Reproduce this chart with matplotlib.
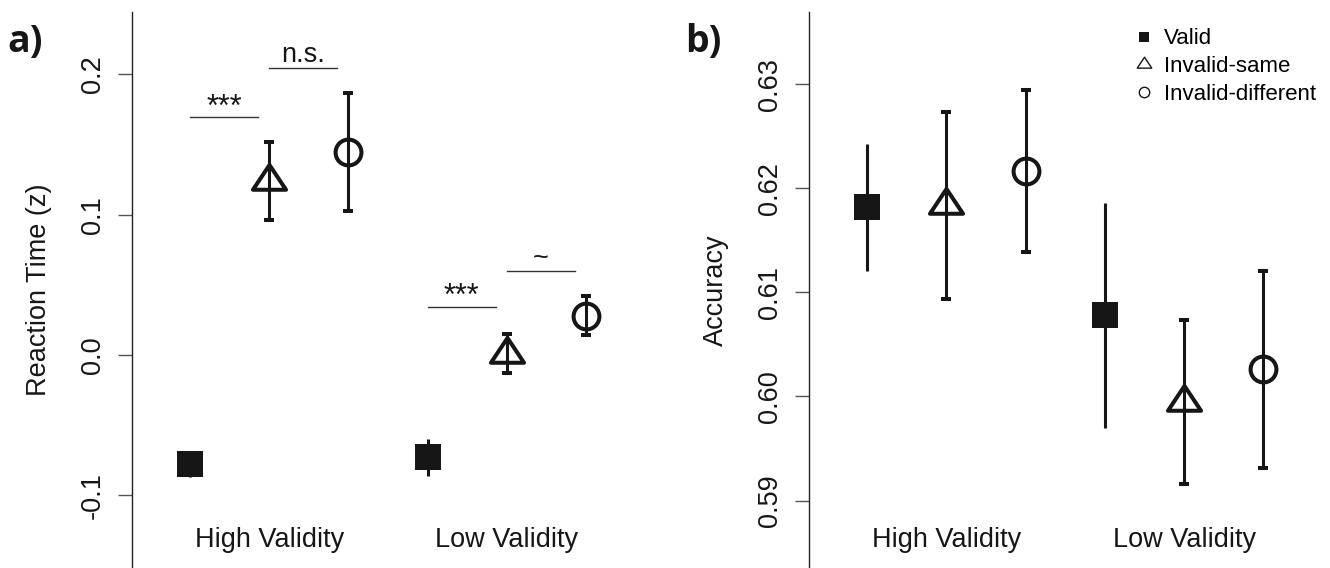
import numpy as np
import matplotlib.pyplot as plt
from matplotlib.lines import Line2D
from matplotlib.path import Path

plt.rcParams['font.family'] = ['Liberation Sans', 'DejaVu Sans']

# conditions inside each validity group
conditions = ["Valid", "Invalid-same", "Invalid-different"]
groups = ["High Validity", "Low Validity"]

# panel a: reaction time (z), order = High(valid, same, diff), Low(valid, same, diff)
rt_mean = [-0.078, 0.124, 0.145, -0.073, 0.001, 0.028]
rt_err = [0.009, 0.028, 0.042, 0.013, 0.014, 0.014]

# panel b: accuracy
acc_mean = [0.6182, 0.6184, 0.6217, 0.6078, 0.5995, 0.6026]
acc_err = [0.0061, 0.0090, 0.0078, 0.0108, 0.0079, 0.0095]

# significance lines in panel a
sig_from = [1, 2, 4, 5]
sig_to = [1.86, 2.86, 4.86, 5.86]
sig_y = [0.1696, 0.2046, 0.0344, 0.0597]
sig_text = ["***", "n.s.", "***", "~"]

rt_ticks = [-0.1, 0.0, 0.1, 0.2]
acc_ticks = [0.59, 0.60, 0.61, 0.62, 0.63]

col = "#161616"
W, H = 1330, 568

# R-like triangle, centred on its centroid
tri = Path([(0, 0.5), (-0.5, -0.25), (0.5, -0.25), (0, 0.5)],
           [Path.MOVETO, Path.LINETO, Path.LINETO, Path.CLOSEPOLY])
styles = [dict(marker="s", ms=18.7, mfc=col, mew=0),
          dict(marker=tri, ms=23.8, mfc="none", mew=2.9),
          dict(marker="o", ms=18.6, mfc="none", mew=2.9)]

fig = plt.figure(figsize=(W / 100, H / 100), dpi=100)
ax1 = fig.add_axes([131.7 / W, 0, 517.6 / W, 556 / H])
ax2 = fig.add_axes([809 / W, 0, 517.6 / W, 556 / H])


def draw_panel(ax, means, errs, ylim, ticks, fmt, ylabel):
    for g in range(len(groups)):
        for c in range(len(conditions)):
            i = g * 3 + c
            ax.errorbar(i + 1, means[i], yerr=errs[i], color=col, mec=col,
                        elinewidth=2.2, capsize=3.6, capthick=2.2, ls="none",
                        **styles[c])
        ax.text(g * 3 + 2, 20.7 / 556, groups[g], fontsize=19.5, ha="center",
                va="baseline", color=col,
                transform=ax.get_xaxis_transform())
    ax.set_xlim(0.264, 6.799)
    ax.set_ylim(*ylim)
    ax.set_yticks(ticks)
    ax.set_yticklabels([fmt.format(t) for t in ticks])
    for s in ["top", "right", "bottom"]:
        ax.spines[s].set_visible(False)
    ax.spines["left"].set_linewidth(1.0)
    ax.spines["left"].set_color("#222222")
    ax.set_xticks([])
    ax.tick_params(axis="y", length=10, width=1, color="#555555",
                   labelsize=19.5, labelcolor=col, pad=8.5, labelrotation=90)
    for lab in ax.get_yticklabels():
        lab.set_va("center")
    ax.set_ylabel(ylabel, fontsize=19.5, color=col)
    ax.yaxis.set_label_coords(-0.154, 0.5)


draw_panel(ax1, rt_mean, rt_err, (-0.1518, 0.2445), rt_ticks, "{:.1f}",
           "Reaction Time (z)")
draw_panel(ax2, acc_mean, acc_err, (0.58351, 0.63697), acc_ticks, "{:.2f}",
           "Accuracy")

for x0, x1, y, t in zip(sig_from, sig_to, sig_y, sig_text):
    ax1.plot([x0, x1], [y, y], color="#333333", lw=1.0)
    stars = t == "***"
    ax1.annotate(t, xy=((x0 + x1) / 2, y), xytext=(0, 1 if stars else 4),
                 textcoords="offset points", ha="center", va="baseline",
                 fontsize=22 if stars else 19.5, color=col)

fig.text(7 / W, 1 - 51.7 / H, "a)", fontsize=27, fontweight="bold",
         family="Open Sans", color=col, va="baseline")
fig.text(685 / W, 1 - 51.7 / H, "b)", fontsize=27, fontweight="bold",
         family="Open Sans", color=col, va="baseline")

handles = [Line2D([], [], ls="none", marker="s", ms=7.2, color=col, mew=0),
           Line2D([], [], ls="none", marker=tri, ms=10.5, mfc="none",
                  mec=col, mew=1.0),
           Line2D([], [], ls="none", marker="o", ms=7.5, mfc="none",
                  mec=col, mew=1.0)]
ax2.legend(handles, conditions, loc="upper left",
           bbox_to_anchor=(1133.2 / W, 1 - 28.5 / H),
           bbox_transform=fig.transFigure, frameon=False, borderpad=0,
           borderaxespad=0, handlelength=1.0, handletextpad=0.4,
           labelspacing=0.3, fontsize=16)

fig.savefig("out.png", dpi=100)
